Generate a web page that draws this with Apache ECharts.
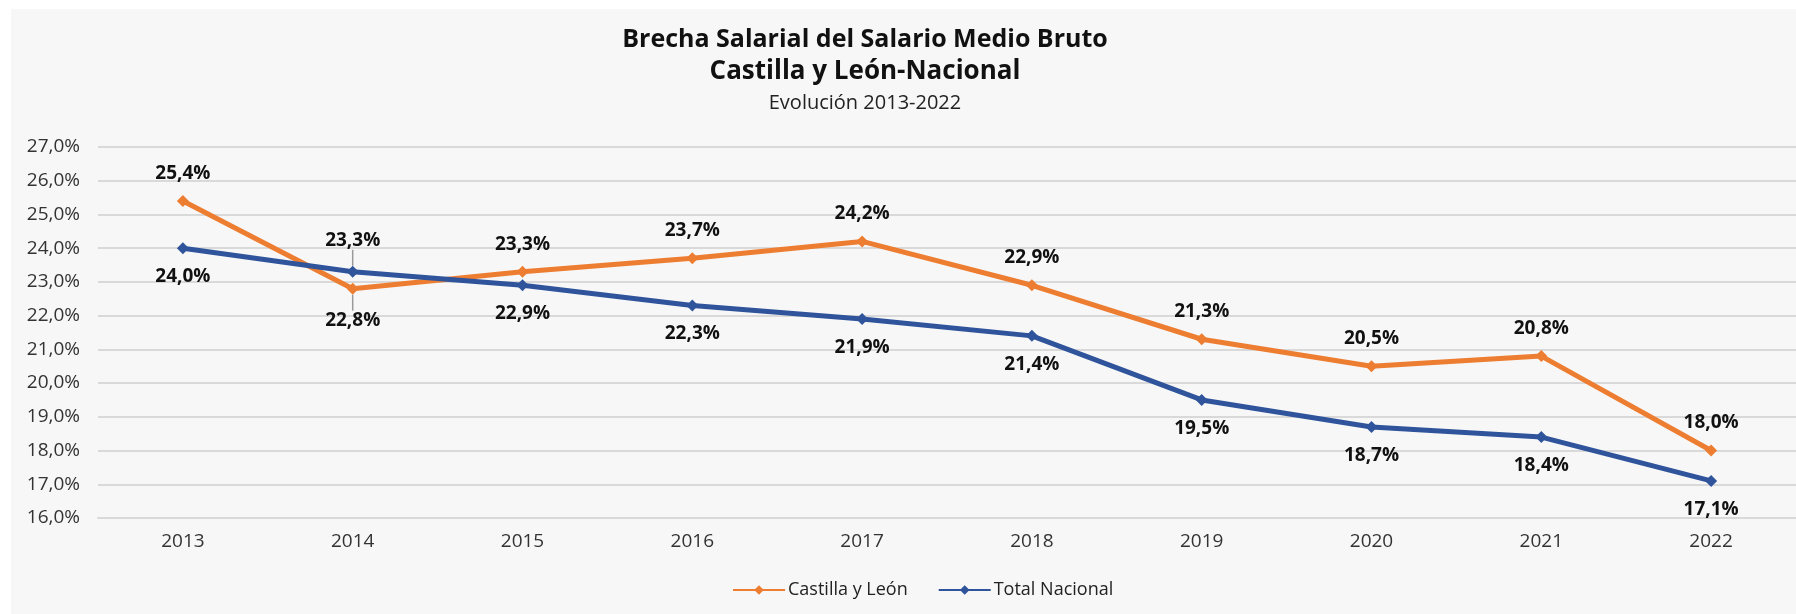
<!DOCTYPE html>
<html>
<head>
<meta charset="utf-8">
<title>Brecha Salarial</title>
<script src="https://cdn.jsdelivr.net/npm/echarts@6/dist/echarts.min.js"></script>
<style>
  html, body { margin: 0; padding: 0; background: #fff; }
  #chart { width: 1796px; height: 614px; }
</style>
</head>
<body>
<div id="chart"></div>
<script>
const years = ['2013', '2014', '2015', '2016', '2017', '2018', '2019', '2020', '2021', '2022'];
const castilla = [25.4, 22.8, 23.3, 23.7, 24.2, 22.9, 21.3, 20.5, 20.8, 18.0];
const nacional = [24.0, 23.3, 22.9, 22.3, 21.9, 21.4, 19.5, 18.7, 18.4, 17.1];
const yTicks = { min: 16, max: 27, step: 1 };

const fmtPct = v => v.toFixed(1).replace('.', ',') + '%';
const FONT = '"Open Sans", "Noto Sans", sans-serif';

// 2014 is the only year where labels swap sides, with a small grey leader line
const FLIP = 1;
function buildData(values, defaultPos) {
    return values.map((v, i) => {
        if (i !== FLIP) return v;
        return {
            value: v,
            label: { position: defaultPos === 'top' ? 'bottom' : 'top', distance: 4 },
            labelLine: { show: true, lineStyle: { color: '#9a9a9a', width: 1.5 } }
        };
    });
}
function flipLayout(dir) {
    return p => p.dataIndex === FLIP ? { dy: dir * 12 } : {};
}

const labelBase = {
    show: true, fontFamily: FONT, fontSize: 19, fontWeight: 'bold', color: '#111',
    formatter: p => fmtPct(p.value)
};

// the title block is not centred on the page, it sits a bit to the left
const titleX = 865;
function titleLine(text, y, size, weight, color) {
    return {
        type: 'text', silent: true, x: titleX, y: y,
        style: {
            text: text, textAlign: 'center', textVerticalAlign: 'middle',
            font: weight + ' ' + size + 'px ' + FONT, fill: color
        }
    };
}

const chart = echarts.init(document.getElementById('chart'));
chart.setOption({
    backgroundColor: '#ffffff',
    animation: false,
    textStyle: { fontFamily: FONT },
    graphic: [
        {
            type: 'rect', z: -100, silent: true,
            shape: { x: 11, y: 9, width: 1785, height: 605 },
            style: { fill: '#f7f7f7' }
        },
        titleLine('Brecha Salarial del Salario Medio Bruto', 40, 25, 'bold', '#111'),
        titleLine('Castilla y León-Nacional', 72, 26, 'bold', '#111'),
        titleLine('Evolución 2013-2022', 103, 20, 'normal', '#222')
    ],
    legend: {
        left: 727, top: 576,
        itemWidth: 52, itemHeight: 12, itemGap: 30,
        textStyle: { fontFamily: FONT, fontSize: 18, color: '#222', padding: [0, 0, 0, -2] },
        data: ['Castilla y León', 'Total Nacional']
    },
    grid: { left: 98, top: 147, width: 1704, height: 371 },
    xAxis: {
        type: 'category',
        data: years,
        boundaryGap: true,
        axisLine: { show: true, lineStyle: { color: '#d9d9d9', width: 2 } },
        axisTick: { show: false },
        axisLabel: { margin: 14, fontSize: 19, color: '#333', fontFamily: FONT }
    },
    yAxis: {
        type: 'value',
        min: yTicks.min, max: yTicks.max, interval: yTicks.step,
        axisLine: { show: false },
        axisTick: { show: false },
        splitLine: { lineStyle: { color: '#d9d9d9', width: 2 } },
        axisLabel: { margin: 18, fontSize: 19, color: '#333', fontFamily: FONT, formatter: fmtPct }
    },
    series: [
        {
            name: 'Castilla y León',
            type: 'line',
            data: buildData(castilla, 'top'),
            color: '#ed7d31',
            lineStyle: { width: 5 },
            symbol: 'diamond', symbolSize: 12,
            label: Object.assign({ position: 'top', distance: 12 }, labelBase),
            labelLayout: flipLayout(1)
        },
        {
            name: 'Total Nacional',
            type: 'line',
            data: buildData(nacional, 'bottom'),
            color: '#2f549b',
            lineStyle: { width: 5 },
            symbol: 'diamond', symbolSize: 12,
            label: Object.assign({ position: 'bottom', distance: 13 }, labelBase),
            labelLayout: flipLayout(-1)
        }
    ]
});
</script>
</body>
</html>
